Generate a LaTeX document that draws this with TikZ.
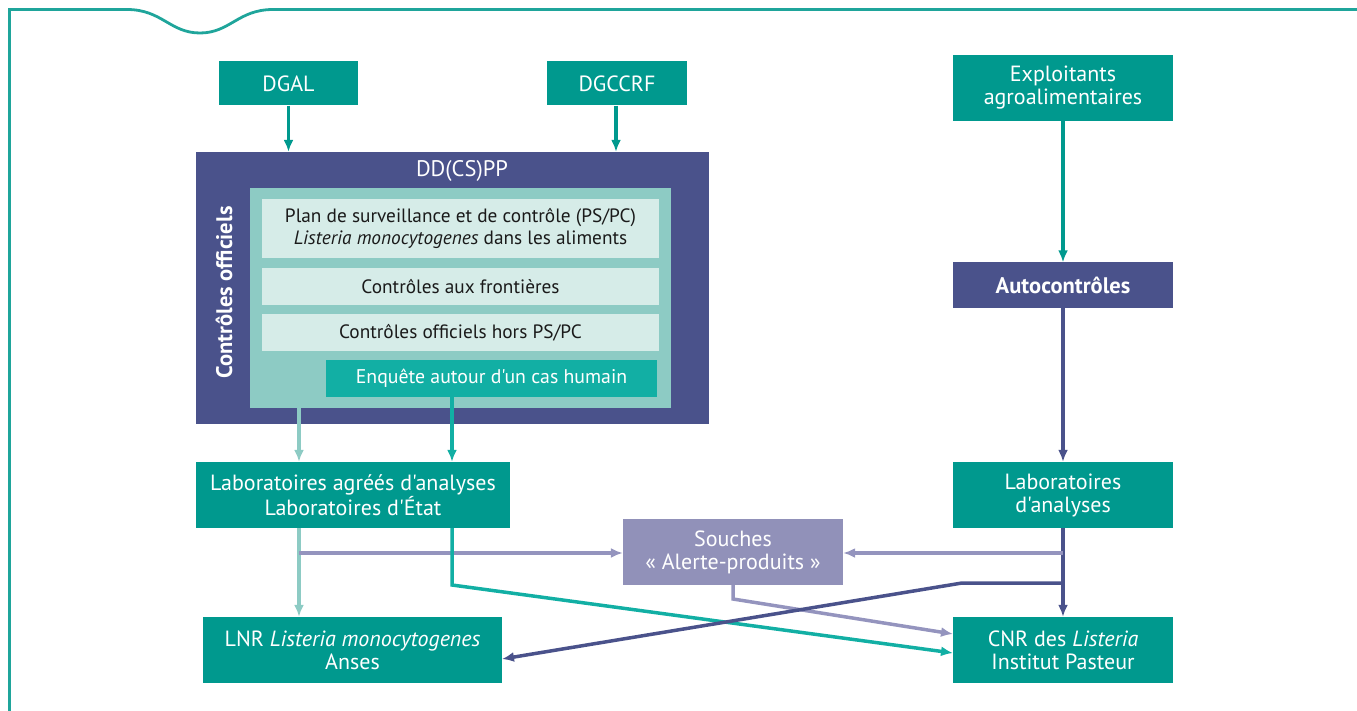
\documentclass[tikz,border=0pt]{standalone}
\usepackage{fontspec}
\setmainfont{PT Sans}[Ligatures=TeXOff]
\usetikzlibrary{arrows.meta}
\definecolor{teal1}{HTML}{00998E}
\definecolor{navy}{HTML}{4A528B}
\definecolor{lteal}{HTML}{8DCBC4}
\definecolor{pteal}{HTML}{D6ECE8}
\definecolor{bteal}{HTML}{12AFA4}
\definecolor{lav}{HTML}{9191B9}
\definecolor{lavline}{HTML}{9494BE}
\definecolor{frame}{HTML}{1FA59B}
\definecolor{ink}{HTML}{1A1A1A}
\tikzset{
  box/.style={rectangle, inner sep=0pt, align=center, font=\fontsize{22}{23}\selectfont},
  tealbox/.style={box, fill=teal1, text=white},
  subbox/.style={box, fill=pteal, text=ink, font=\fontsize{19.3}{22}\selectfont},
  conn/.style={line width=3.5pt, -{Latex[length=12pt,width=10pt]}},
}
\begin{document}
\begin{tikzpicture}[x=1pt,y=-1pt]
\useasboundingbox (0,0) rectangle (1357,711);
% frame
\draw[frame, line width=2.8pt] (9.5,711) -- (9.5,9.5) -- (127,9.5)
  .. controls (162,9.5) and (170,33) .. (200,33)
  .. controls (230,33) and (238,9.5) .. (273,9.5) -- (1357,9.5);

% top boxes
\node[tealbox, minimum width=139pt, minimum height=44pt] (dgal) at (288.5,83.5) {DGAL};
\node[tealbox, minimum width=140pt, minimum height=44pt] (dgccrf) at (617,83.5) {DGCCRF};
\node[tealbox, minimum width=220pt, minimum height=66pt] (expl) at (1063,88) {Exploitants\\agroalimentaires};

% DD(CS)PP
\node[box, fill=navy, minimum width=513pt, minimum height=272pt] (dd) at (452.5,288) {};
\node[box, text=white, font=\fontsize{22.5}{23}\selectfont] (ddt) at (462,171) {DD(CS)PP};
\node[box, text=white, rotate=90, font=\fontsize{22.5}{23}\selectfont\bfseries] (co) at (224,292.5) {Contrôles officiels};
\node[box, fill=lteal, minimum width=421pt, minimum height=220pt] (inner) at (460.5,298) {};
\node[subbox, minimum width=397pt, minimum height=59pt] (plan) at (460.5,228.5) {Plan de surveillance et de contrôle (PS/PC)\\\textit{Listeria monocytogenes} dans les aliments};
\node[subbox, minimum width=397pt, minimum height=37pt] (front) at (460.5,286.5) {Contrôles aux frontières};
\node[subbox, minimum width=397pt, minimum height=37pt] (hors) at (460.5,332.5) {Contrôles officiels hors PS/PC};
\node[box, fill=bteal, text=white, minimum width=331pt, minimum height=37pt, font=\fontsize{19.8}{22}\selectfont] (enq) at (491.5,378.5) {Enquête autour d'un cas humain};

% right column
\node[box, fill=navy, text=white, minimum width=220pt, minimum height=45pt, font=\fontsize{22.5}{23}\selectfont\bfseries] (auto) at (1063,285) {Autocontrôles};
\node[tealbox, minimum width=220pt, minimum height=66pt] (labana) at (1063,495) {Laboratoires\\d'analyses};
\node[tealbox, minimum width=220pt, minimum height=66pt] (cnr) at (1063,650) {CNR des \textit{Listeria}\\Institut Pasteur};

% left column
\node[tealbox, minimum width=314pt, minimum height=66pt] (labag) at (353,495) {Laboratoires agréés d'analyses\\Laboratoires d'État};
\node[tealbox, minimum width=299pt, minimum height=66pt] (lnr) at (352.5,650) {LNR \textit{Listeria monocytogenes}\\Anses};

% souches
\node[box, fill=lav, text=white, minimum width=220pt, minimum height=66pt] (souches) at (733,552) {Souches\\« Alerte-produits »};

% helper coordinates
\coordinate (xa) at (299,0);
\coordinate (xb) at (452,0);
\coordinate (xc) at (616,0);
\coordinate (ys) at (0,553);
\coordinate (yn) at (0,583);
\coordinate (nk) at (962,583);
\coordinate (tk) at (452,585);
\coordinate (sk) at (733,599);
\coordinate (cnrA) at (953,634);
\coordinate (cnrB) at (953,653);
\coordinate (lnrA) at (502,659);

% connectors
\draw[conn, teal1] (dgal.south) -- (dgal.south |- dd.north);
\draw[conn, teal1] (dgccrf.south -| xc) -- (dd.north -| xc);
\draw[conn, teal1] (expl.south) -- (auto.north);
\draw[conn, navy] (auto.south) -- (labana.north);
\draw[conn, navy] (labana.south) -- (cnr.north);
\draw[conn, lteal] (inner.south -| xa) -- (labag.north -| xa);
\draw[conn, bteal] (enq.south -| xb) -- (labag.north -| xb);
\draw[conn, lteal] (labag.south -| xa) -- (lnr.north -| xa);
\draw[conn, lavline] (xa |- ys) -- (souches.west |- ys);
\draw[conn, lavline] (labana.south |- ys) -- (souches.east |- ys);
\draw[conn, bteal] (labag.south -| xb) -- (tk) -- (cnrB);
\draw[conn, lavline] (souches.south) -- (sk) -- (cnrA);
\draw[conn, navy] (labana.south |- yn) -- (nk) -- (lnrA);
\end{tikzpicture}
\end{document}
